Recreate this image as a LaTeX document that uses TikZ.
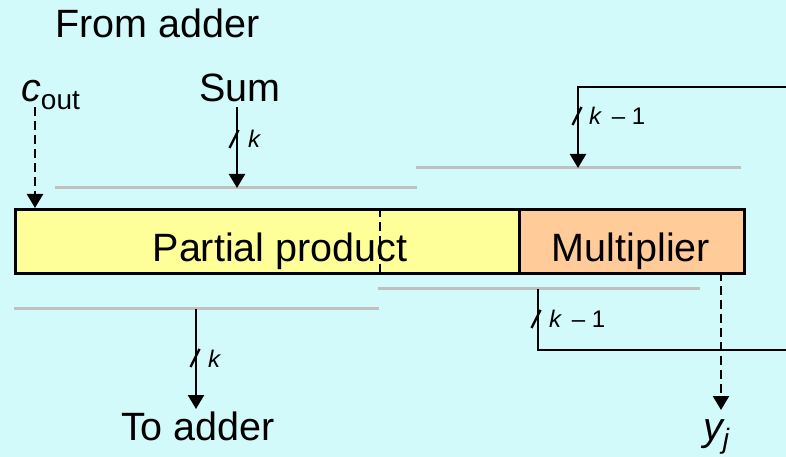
\documentclass[tikz,border=0pt]{standalone}
\usepackage{fontspec}
\setmainfont{Liberation Sans}
\usetikzlibrary{arrows.meta,calc,positioning}
\definecolor{bgC}{HTML}{D3FAFA}
\definecolor{ppF}{HTML}{FFFF99}
\definecolor{mulF}{HTML}{FFCC99}
\definecolor{busC}{HTML}{C0C0C0}
\tikzset{
  big/.style={font=\fontsize{39.5bp}{46bp}\selectfont, inner sep=0pt},
  lab/.style={font=\fontsize{24bp}{28bp}\selectfont\itshape, inner sep=0pt, anchor=base west},
  reg/.style={draw, line width=2.7bp, minimum height=64bp, inner sep=0pt, anchor=north west},
  bus/.style={draw=busC, line width=3bp},
  wire/.style={-{Triangle[length=14bp,width=16bp]}, line width=2.3bp},
  dwire/.style={wire, dash pattern=on 9bp off 5bp},
  fb/.style={line width=2.3bp},
}
\newcommand\nbits[1]{\draw[fb] ($(#1)+(-4.5,9)$) -- ($(#1)+(4.5,-9)$);}

\begin{document}
\begin{tikzpicture}[x=1bp, y=-1bp]
\fill[bgC] (0,0) rectangle (786,457);
\useasboundingbox (0,0) rectangle (786,457);
% registers
\node[reg, fill=ppF, minimum width=504bp] (pp) at (14,208) {};
\node[reg, fill=mulF, minimum width=225bp] (mul) at (518,208) {};
\node[big, anchor=base] (pptxt) at (280,262) {Partial product};
\node[big, anchor=base] (multxt) at (631,262) {Multiplier};
\draw[fb, dash pattern=on 9bp off 5bp] ([xshift=366bp]pp.north west) -- ([xshift=366bp]pp.south west);
% bus lines
\coordinate (busA1) at (55,188);  \coordinate (busA2) at (417,188);
\coordinate (busB1) at (416,168); \coordinate (busB2) at (741,168);
\coordinate (busC1) at (378,289); \coordinate (busC2) at (700,289);
\coordinate (busD1) at (14,309);  \coordinate (busD2) at (379,309);
\draw[bus] (busA1) -- (busA2);
\draw[bus] (busB1) -- (busB2);
\draw[bus] (busC1) -- (busC2);
\draw[bus] (busD1) -- (busD2);
% labels
\node[big, anchor=base west] (from) at (55,38) {From adder};
\node[big, anchor=base] (sum) at (240,102) {Sum};
\node[big, anchor=base west] (cout) at (21,102) {\itshape c\raisebox{-8bp}{\upshape\fontsize{28bp}{32bp}\selectfont out}};
\node[big, anchor=base] (toadd) at (198,440) {To adder};
\node[big, anchor=base west] (yj) at (703,440) {\itshape y\raisebox{-8bp}{\fontsize{28bp}{32bp}\selectfont j}};
% end points
\coordinate (coutS) at (35,107);
\coordinate (sumS) at (237,107);
\coordinate (fbT) at (786,87);
\coordinate (mulIn) at (578,168);
\coordinate (mulOut) at (538,289);
\coordinate (fbB) at (786,350);
\coordinate (ppOut) at (196,309);
\coordinate (toaddN) at (196,409);
\coordinate (yjS) at (721,272);
\coordinate (yjN) at (721,410);
% connectors
\draw[dwire] (coutS) -- (coutS |- pp.north);
\draw[wire] (sumS) -- (sumS |- busA1);
\draw[wire] (fbT) -| (mulIn);
\draw[fb] (mulOut) |- (fbB);
\draw[wire] (ppOut) -- (toaddN);
\draw[dwire] (yjS) -- (yjN);
% bit widths
\nbits{234,139} \node[lab] (kA) at (248,148) {k};
\nbits{577,116} \node[lab] (kB) at (589,125) {k\,\upshape{} – 1};
\nbits{536,319} \node[lab] (kC) at (549,328) {k\,\upshape{} – 1};
\nbits{195,358} \node[lab] (kD) at (208,368) {k};
\end{tikzpicture}
\end{document}
